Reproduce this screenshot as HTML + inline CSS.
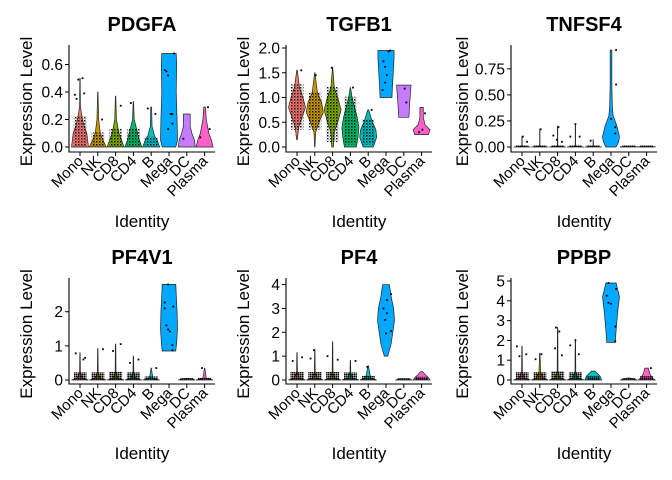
<!DOCTYPE html>
<html><head><meta charset="utf-8"><style>
body{margin:0;background:#fff}
svg{display:block;font-family:"Liberation Sans",Arial,sans-serif}
</style></head><body>
<svg id="c" width="672" height="480" viewBox="0 0 672 480">
<defs>
<pattern id="dots" width="2" height="2" patternUnits="userSpaceOnUse"><rect width="1.6" height="1.6" fill="#000"/></pattern>
<pattern id="sparse" width="3" height="3" patternUnits="userSpaceOnUse"><rect width="1.4" height="1.4" fill="#000"/><rect x="1.5" y="1.5" width="1" height="1" fill="#000" opacity="0.6"/></pattern>
</defs>
</svg>
<script>
const groups=["Mono","NK","CD8","CD4","B","Mega","DC","Plasma"];
const colors=["#F8766D","#CD9600","#7CAE00","#00BE67","#00BFC4","#00A9FF","#C77CFF","#FF61CC"];
const genes=["PDGFA","TGFB1","TNFSF4","PF4V1","PF4","PPBP"];
const tickVals=[[0,0.2,0.4,0.6],[0,0.5,1,1.5,2],[0,0.25,0.5,0.75],[0,1,2],[0,1,2,3,4],[0,1,2,3,4,5]];
const tickLabels=[["0.0","0.2","0.4","0.6"],["0.0","0.5","1.0","1.5","2.0"],["0.00","0.25","0.50","0.75"],["0","1","2"],["0","1","2","3","4"],["0","1","2","3","4","5"]];
const yMax=[0.72,2.0,0.95,2.9,4.15,5.0];
const violinPDGFA=[
[[0,1],[0.05,0.9],[0.1,0.8],[0.15,0.5],[0.2,0.3],[0.25,0.15],[0.3,0.05],[0.5,0.02]],
[[0,1],[0.05,0.6],[0.1,0.3],[0.2,0.1],[0.4,0.02]],
[[0,1],[0.05,0.7],[0.1,0.4],[0.2,0.1],[0.37,0.02]],
[[0,1],[0.05,0.7],[0.1,0.5],[0.15,0.3],[0.2,0.1],[0.33,0.02]],
[[0,1],[0.05,0.7],[0.08,0.4],[0.15,0.1],[0.29,0.05]],
[[0,0.8],[0.05,1],[0.2,0.95],[0.4,0.85],[0.6,0.9],[0.68,0.85]],
[[0,1],[0.05,0.9],[0.1,0.6],[0.15,0.4],[0.24,0.4]],
[[0,1],[0.05,0.8],[0.1,0.5],[0.2,0.2],[0.29,0.1]]];
const violinTGFB1=[
[[0.15,0.05],[0.4,0.2],[0.6,0.6],[0.8,1],[1.0,0.7],[1.2,0.3],[1.55,0.03]],
[[0,0.02],[0.3,0.1],[0.5,0.5],[0.7,1],[0.9,0.8],[1.1,0.3],[1.5,0.02]],
[[0,0.1],[0.3,0.2],[0.5,0.6],[0.75,1],[1.0,0.6],[1.2,0.2],[1.6,0.02]],
[[0,0.7],[0.2,0.9],[0.4,1],[0.6,0.8],[0.8,0.5],[1.0,0.2],[1.2,0.02]],
[[0,0.6],[0.2,1],[0.35,0.9],[0.5,0.5],[0.75,0.05]],
[[1.0,0.7],[1.2,0.75],[1.5,0.85],[1.8,0.95],[1.95,0.95]],
[[0.6,0.6],[0.9,0.7],[1.25,0.85]],
[[0.25,0.8],[0.35,1],[0.45,0.4],[0.6,0.2],[0.8,0.2]]];
const violinTNFSF4=[
[[0,1],[0.005,0.02],[0.1,0.02]],[[0,1],[0.005,0.02],[0.17,0.02]],[[0,1],[0.005,0.02],[0.2,0.02]],
[[0,1],[0.005,0.02],[0.22,0.02]],[[0,1],[0.005,0.02],[0.07,0.02]],
[[0,0.6],[0.05,0.9],[0.1,1],[0.2,0.7],[0.3,0.25],[0.4,0.15],[0.6,0.1],[0.93,0.1]],
[[0,1],[0.003,1]],[[0,1],[0.003,1]]];
const violinPF4V1=[
[[0,1],[0.05,0.3],[0.2,0.05],[0.8,0.02]],[[0,1],[0.05,0.3],[0.2,0.05],[0.92,0.02]],
[[0,1],[0.05,0.3],[0.2,0.05],[1.05,0.02]],[[0,1],[0.05,0.3],[0.2,0.05],[0.7,0.02]],
[[0,1],[0.05,0.2],[0.35,0.02]],
[[0.85,0.8],[1.1,0.9],[1.5,1],[2.0,0.95],[2.5,0.85],[2.8,0.8]],
[[0,1],[0.03,0.6],[0.05,0.1]],[[0,1],[0.05,0.2],[0.35,0.02]]];
const violinPF4=[
[[0,1],[0.08,0.3],[0.3,0.05],[1.15,0.02]],[[0,1],[0.08,0.3],[0.3,0.05],[1.28,0.02]],
[[0,1],[0.08,0.3],[0.3,0.05],[1.6,0.02]],[[0,1],[0.08,0.3],[0.3,0.05],[0.82,0.02]],
[[0,1],[0.08,0.3],[0.6,0.02]],
[[1.0,0.2],[1.5,0.6],[2.0,0.8],[2.5,1],[3,0.9],[3.5,0.6],[4,0.4]],
[[0,1],[0.03,0.6],[0.05,0.1]],[[0,1],[0.1,0.8],[0.2,0.5],[0.35,0.1]]];
const violinPPBP=[
[[0,1],[0.1,0.3],[0.4,0.05],[1.7,0.02]],[[0,1],[0.1,0.4],[0.4,0.1],[1.35,0.02]],
[[0,1],[0.1,0.3],[0.4,0.05],[2.65,0.02]],[[0,1],[0.1,0.3],[0.4,0.05],[2.05,0.02]],
[[0,1],[0.2,0.8],[0.45,0.2]],
[[1.9,0.5],[2.5,0.6],[3.5,0.8],[4.2,1],[4.9,0.6]],
[[0,1],[0.05,0.6],[0.1,0.1]],[[0,1],[0.1,0.7],[0.3,0.4],[0.6,0.2]]];
const violins=[violinPDGFA,violinTGFB1,violinTNFSF4,violinPF4V1,violinPF4,violinPPBP];
const bulkPDGFA=[[0,0.22],[0,0.1],[0,0.13],[0,0.13],[0,0.07],null,null,null];
const bulkTGFB1=[[0.35,1.25],[0.35,1.1],[0.1,1.2],[0.05,1.0],[0.05,0.55],null,null,null];
const bulkTNFSF4=[[0,0.01],[0,0.01],[0,0.01],[0,0.01],[0,0.01],null,[0,0.01],[0,0.01]];
const bulkPF4V1=[[0,0.2],[0,0.2],[0,0.22],[0,0.2],[0,0.08],null,[0,0.03],[0,0.05]];
const bulkPF4=[[0,0.3],[0,0.3],[0,0.32],[0,0.28],[0,0.15],null,[0,0.04],[0,0.1]];
const bulkPPBP=[[0,0.35],[0,0.35],[0,0.4],[0,0.35],[0,0.15],null,[0,0.05],[0,0.15]];
const bulks=[bulkPDGFA,bulkTGFB1,bulkTNFSF4,bulkPF4V1,bulkPF4,bulkPPBP];
const ptsPDGFA=[[0,0.5,0.3],[0,0.49,-0.2],[0,0.39,0.5],[0,0.38,-0.6],[0,0.35,-0.4],[1,0.2,0.5],[2,0.3,0.6],[3,0.32,-0.3],[4,0.28,-0.4],[4,0.24,0.5],[5,0.68,0.6],[5,0.56,-0.5],[5,0.55,-0.3],[5,0.52,-0.1],[5,0.24,0.2],[5,0.24,0.4],[5,0.17,0.4],[5,0.13,-0.1],[6,0.06,-0.4],[7,0.29,0.4],[7,0.13,0.6],[7,0.07,-0.5]];
const ptsTGFB1=[[0,1.55,0.5],[1,1.45,0.1],[2,1.6,-0.1],[3,1.2,0.3],[4,0.75,0.4],[5,1.95,0.5],[5,1.93,0.3],[5,1.73,-0.3],[5,1.62,-0.1],[5,1.45,0.1],[5,1.3,-0.1],[5,1.15,-0.4],[6,1.18,0.1],[6,0.9,0.3],[7,0.68,0.4],[7,0.35,0.1],[7,0.3,-0.3]];
const ptsTNFSF4=[[0,0.1,0.1],[0,0.05,0.6],[1,0.17,0.1],[2,0.11,-0.5],[2,0.07,-0.1],[2,0.19,0.1],[2,0.05,0.5],[3,0.1,-0.6],[3,0.22,0],[3,0.1,0.5],[4,0.06,-0.3],[5,0.93,0.6],[5,0.6,0.6],[5,0.27,0],[5,0.19,0.5],[5,0.13,0.5]];
const ptsPF4V1=[[0,0.78,-0.5],[0,0.6,0.4],[0,0.65,0.6],[1,0.9,0.6],[2,1.05,0.6],[2,0.85,-0.3],[3,0.6,0.6],[3,0.5,-0.4],[4,0.35,0.6],[5,2.8,-0.1],[5,2.27,-0.5],[5,2.15,0.5],[5,2.1,-0.5],[5,1.6,-0.3],[5,1.48,-0.1],[5,1.42,0.1],[5,1.02,0.4],[5,0.87,0.4],[7,0.35,-0.3]];
const ptsPF4=[[0,0.95,0.6],[0,0.8,-0.5],[1,1.25,-0.1],[1,0.9,-0.5],[2,1.0,-0.6],[2,0.85,0.6],[3,0.8,0.6],[4,0.55,-0.1],[5,3.6,0.6],[5,3.35,0.1],[5,3.0,-0.3],[5,2.8,0.1],[5,2.52,-0.1],[5,2.05,0.6],[5,1.95,0]];
const ptsPPBP=[[0,1.7,-0.6],[0,1.3,0.5],[0,1.2,-0.3],[1,1.05,-0.5],[1,1.3,0.2],[2,2.65,-0.2],[2,2.45,0.2],[2,1.6,-0.3],[2,1.25,0.5],[3,1.75,-0.6],[3,1.3,0.4],[3,2.0,0],[5,4.9,-0.3],[5,4.6,0.6],[5,4.25,-0.5],[5,3.9,-0.3],[5,3.85,0],[5,2.7,0.5],[5,1.95,0.5],[7,0.6,0.5]];
const points=[ptsPDGFA,ptsTGFB1,ptsTNFSF4,ptsPF4V1,ptsPF4,ptsPPBP];
const sparseGene=[true,true,false,false,false,false];

const svg=document.getElementById('c');
const NS="http://www.w3.org/2000/svg";
function mk(t,a,parent){const e=document.createElementNS(NS,t);for(const k in a)e.setAttribute(k,a[k]);(parent||svg).appendChild(e);return e;}
const axisX=[69,286,511];
const rowZero=[147,380], rowTop=[45,278], rowAxis=[152,384];
const yTitleX=[26,243,462];
const step=17.8, halfW=8.5;

genes.forEach((gene,gi)=>{
  const col=gi%3,row=Math.floor(gi/3);
  const ax=axisX[col],y0=rowZero[row],top=rowTop[row],ya=rowAxis[row];
  const g=mk('g',{});
  
  
  const yS=v=>y0-(v/yMax[gi])*(y0-top-3);
  const xS=i=>ax+11+i*step;
  const right=ax+146;
  violins[gi].forEach((prof,i)=>{
    const cx=xS(i);
    let L=[],R=[];
    prof.forEach(([v,d])=>{R.push((cx+d*halfW).toFixed(2)+','+yS(v).toFixed(2));L.unshift((cx-d*halfW).toFixed(2)+','+yS(v).toFixed(2));});
    const p=mk('polygon',{points:R.concat(L).join(' '),fill:colors[i],stroke:'#222','stroke-width':0.7},g);
    
    
    const b=bulks[gi][i];
    if(b){
      const y1=yS(b[1]),y2=yS(b[0]);
      const r=mk('rect',{x:cx-6.5,y:y1-0.8,width:13,height:Math.max(1.6,y2-y1+0.8),fill:sparseGene[gi]?'url(#sparse)':'url(#dots)'},g);
      
      
    }
  });
  points[gi].forEach(([i,v,j])=>{
    const c=mk('rect',{x:xS(i)+j*halfW-0.9,y:yS(v)-0.9,width:1.8,height:1.8,fill:'#000'},g);
    
    
  });
  const ya1=mk('line',{x1:ax,y1:top,x2:ax,y2:ya+0.5,stroke:'#000','stroke-width':1.1},g);
  
  
  const xa=mk('line',{x1:ax-0.5,y1:ya,x2:right,y2:ya,stroke:'#000','stroke-width':1.1},g);
  
  
  tickVals[gi].forEach((v,k)=>{
    const y=yS(v);
    mk('line',{x1:ax-4,y1:y,x2:ax,y2:y,stroke:'#000'},g);
    const t=mk('text',{x:ax-6,y:y+5.5,'text-anchor':'end','font-size':15.5,fill:'#000'},g);
    t.textContent=tickLabels[gi][k];
    
    
  });
  groups.forEach((gr,i)=>{
    const x=xS(i);
    mk('line',{x1:x,y1:ya,x2:x,y2:ya+4,stroke:'#000'},g);
    const t=mk('text',{x:x+4,y:ya+10,'text-anchor':'end','font-size':15,fill:'#000',transform:`rotate(-45 ${x+4} ${ya+10})`},g);
    t.textContent=gr;
    
    
  });
  const tt=mk('text',{x:ax+73,y:top-14,'text-anchor':'middle','font-size':20,'font-weight':'bold',fill:'#000'},g);
  tt.textContent=gene;
  
  
  const xt=mk('text',{x:ax+73,y:ya+75,'text-anchor':'middle','font-size':17,fill:'#000'},g);
  xt.textContent='Identity';
  
  
  const yc=(top+ya)/2+3, yx=yTitleX[col]+6;
  const yt=mk('text',{x:yx,y:yc,'text-anchor':'middle','font-size':17,fill:'#000',transform:`rotate(-90 ${yx} ${yc})`},g);
  yt.textContent='Expression Level';
  
  
});
</script>
</body></html>
